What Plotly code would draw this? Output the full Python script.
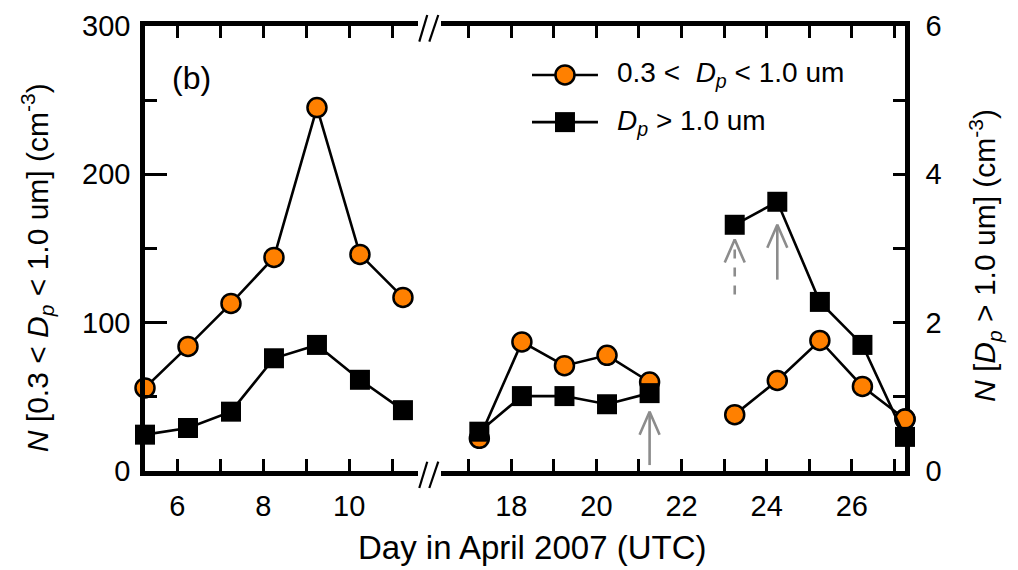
import plotly.graph_objects as go

# ---------------- data ----------------
days_left = [5.25, 6.25, 7.25, 8.25, 9.25, 10.25, 11.25]
fine_left = [56, 84, 113, 144, 245, 146, 117]          # 0.3 < Dp < 1.0 um (left axis)
coarse_left = [0.49, 0.58, 0.80, 1.52, 1.70, 1.23, 0.82]  # Dp > 1.0 um (right axis)

days_right = [17.25, 18.25, 19.25, 20.25, 21.25, 22.25, 23.25, 24.25, 25.25, 26.25, 27.25]
fine_right = [22, 87, 71, 78, 60, None, 38, 61, 88, 57, 35]
coarse_right = [0.53, 1.01, 1.01, 0.90, 1.05, None, 3.32, 3.63, 2.28, 1.70, 0.46]

arrow_days = [21.25, 23.25, 24.25]
arrow_tail = [4, 119, 129]     # in left-axis units
arrow_tip = [40, 156, 166]
arrow_dash = ["solid", "dash", "solid"]

ticks_left = [6, 7, 8, 9, 10, 11]
ticks_right = [17, 18, 19, 20, 21, 22, 23, 24, 25, 26, 27]

# ---------------- style ----------------
FONT = "Liberation Sans, Arial, Helvetica, sans-serif"
ORANGE = "#FF8000"
GRAY = "#8C8C8C"
LW = 2.6
circ = dict(symbol="circle", size=19, color=ORANGE, line=dict(color="black", width=2.5))
sq = dict(symbol="square", size=20, color="black", line=dict(color="black", width=0))

fig = go.Figure()

# arrows (drawn first so markers sit on top)
head_dx, head_dy = 0.235, 15.5
for d, t0, t1, ds in zip(arrow_days, arrow_tail, arrow_tip, arrow_dash):
    fig.add_trace(go.Scatter(x=[d, d], y=[t0, t1], mode="lines", xaxis="x2", yaxis="y",
                             line=dict(color=GRAY, width=2.6, dash=ds), showlegend=False,
                             hoverinfo="skip", cliponaxis=False))
    fig.add_trace(go.Scatter(x=[d - head_dx, d, d + head_dx], y=[t1 - head_dy, t1, t1 - head_dy],
                             mode="lines", xaxis="x2", yaxis="y",
                             line=dict(color=GRAY, width=2.6), showlegend=False,
                             hoverinfo="skip", cliponaxis=False))

# left segment
fig.add_trace(go.Scatter(x=days_left, y=fine_left, mode="lines+markers", xaxis="x", yaxis="y",
                         line=dict(color="black", width=LW), marker=circ, showlegend=False,
                         cliponaxis=False))
fig.add_trace(go.Scatter(x=days_left, y=coarse_left, mode="lines+markers", xaxis="x", yaxis="y2",
                         line=dict(color="black", width=LW), marker=sq, showlegend=False,
                         cliponaxis=False))
# right segment
fig.add_trace(go.Scatter(x=days_right, y=fine_right, mode="lines+markers", xaxis="x2", yaxis="y",
                         line=dict(color="black", width=LW), marker=circ, showlegend=False,
                         connectgaps=False, cliponaxis=False))
fig.add_trace(go.Scatter(x=days_right, y=coarse_right, mode="lines+markers", xaxis="x2", yaxis="y2",
                         line=dict(color="black", width=LW), marker=sq, showlegend=False,
                         connectgaps=False, cliponaxis=False))
# last circle sits on top of its square in the reference
fig.add_trace(go.Scatter(x=days_right[-1:], y=fine_right[-1:], mode="markers", xaxis="x2", yaxis="y",
                         marker=circ, showlegend=False, cliponaxis=False))

# custom legend samples on a hidden axis pair
leg_rows = [0.890, 0.784]
for yrow, mk in zip(leg_rows, [circ, sq]):
    fig.add_trace(go.Scatter(x=[0, 1], y=[yrow, yrow], mode="lines", xaxis="x3", yaxis="y3",
                             line=dict(color="black", width=LW), showlegend=False, hoverinfo="skip",
                             cliponaxis=False))
    fig.add_trace(go.Scatter(x=[0.5], y=[yrow], mode="markers", xaxis="x3", yaxis="y3",
                             marker=mk, showlegend=False, hoverinfo="skip", cliponaxis=False))

TICKFS = 29
axis_common = dict(showline=True, linecolor="black", linewidth=4.5, ticks="inside",
                   tickcolor="black", tickwidth=3, showgrid=False, zeroline=False,
                   automargin=False,
                   tickfont=dict(family=FONT, size=TICKFS, color="black"))

d_left = [0.0, 0.3592]
d_right = [0.3895, 1.0]

fig.update_layout(
    width=1018, height=570,
    margin=dict(l=137, r=121, t=18, b=107, autoexpand=False),
    plot_bgcolor="rgba(0,0,0,0)", paper_bgcolor="white",
    font=dict(family=FONT, size=TICKFS, color="black"),
    showlegend=False,
    xaxis=dict(domain=d_left, range=[5.25, 11.6], anchor="y", mirror="ticks",
               tickmode="array", tickvals=ticks_left,
               ticktext=[str(t) if t % 2 == 0 else "" for t in ticks_left],
               ticklen=12, ticklabelstandoff=5, **axis_common),
    xaxis2=dict(domain=d_right, range=[16.35, 27.25], anchor="y", mirror="ticks",
                tickmode="array", tickvals=ticks_right,
                ticktext=[str(t) if t % 2 == 0 else "" for t in ticks_right],
                ticklen=12, ticklabelstandoff=5, **axis_common),
    yaxis=dict(domain=[0, 1], range=[0, 300], anchor="x", side="left",
               tickmode="array", tickvals=[0, 100, 200, 300], ticklen=22,
               minor=dict(tickmode="array", tickvals=[50, 150, 250], ticks="inside", ticklen=12,
                          tickwidth=3, tickcolor="black"),
               ticklabelstandoff=4, **axis_common),
    yaxis2=dict(range=[0, 6], anchor="x2", overlaying="y", side="right",
                tickmode="array", tickvals=[0, 2, 4, 6], ticklen=12,
                minor=dict(tickmode="array", tickvals=[1, 3, 5], ticks="inside", ticklen=12,
                           tickwidth=3, tickcolor="black"),
                ticklabelstandoff=10, **axis_common),
    xaxis3=dict(domain=[0.5092, 0.596], range=[0, 1], visible=False, fixedrange=True,
                automargin=False),
    yaxis3=dict(domain=[0, 1], range=[0, 1], anchor="x3", visible=False, fixedrange=True,
                automargin=False),
)

# axis break marks "//"
for xa, xb in [(0.3609, 0.3714), (0.3741, 0.3859)]:
    for ya, yb in [(0.9648, 1.0247), (-0.0382, 0.0209)]:
        fig.add_shape(type="line", xref="paper", yref="paper", x0=xa, y0=ya, x1=xb, y1=yb,
                      line=dict(color="black", width=2.2))

ann = [
    dict(text="(b)", x=0.0618, y=0.883, xanchor="center", yanchor="middle", font=dict(size=32)),
    dict(text="Day in April 2007 (UTC)", x=0.509, y=-0.171, xanchor="center", yanchor="middle",
         font=dict(size=33)),
    dict(text="<i>N</i> [0.3 &lt; <i>D<sub>p</sub></i> &lt; 1.0 um] (cm<sup>-3</sup>)",
         x=-0.142, y=0.456, textangle=-90, xanchor="center", yanchor="middle", font=dict(size=30)),
    dict(text="<i>N</i> [<i>D<sub>p</sub></i> &gt; 1.0 um] (cm<sup>-3</sup>)",
         x=1.105, y=0.485, textangle=-90, xanchor="center", yanchor="middle", font=dict(size=30)),
    dict(text="0.3 &lt;&nbsp; <i>D<sub>p</sub></i> &lt; 1.0 um", x=0.6184, y=leg_rows[0],
         xanchor="left", yanchor="middle", font=dict(size=28)),
    dict(text="<i>D<sub>p</sub></i> &gt; 1.0 um", x=0.6184, y=leg_rows[1],
         xanchor="left", yanchor="middle", font=dict(size=28)),
]
for a in ann:
    a.update(xref="paper", yref="paper", showarrow=False)
    a["font"].update(family=FONT, color="black")
    fig.add_annotation(**a)

fig.write_html("out.html")
